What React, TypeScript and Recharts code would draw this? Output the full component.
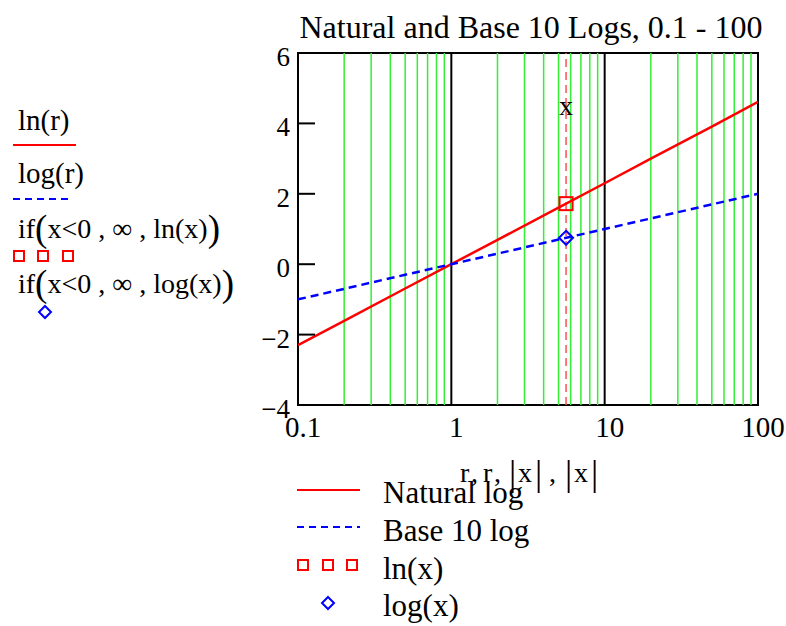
import React from 'react';
import {
  ComposedChart,
  Line,
  Scatter,
  XAxis,
  YAxis,
  ReferenceLine,
  ReferenceArea,
} from 'recharts';

// values
const rValues = [0.1, 0.2, 0.5, 1, 2, 5, 10, 20, 50, 100];
const naturalLog = [-2.3, -1.61, -0.69, 0, 0.69, 1.61, 2.3, 3.0, 3.91, 4.61];
const base10Log = [-1, -0.7, -0.3, 0, 0.3, 0.7, 1, 1.3, 1.7, 2];

const markerX = [5.6];
const markerLn = [1.72];
const markerLog = [0.75];

const xTicks = [0.1, 1, 10, 100];
const yTicks = [-4, -2, 0, 2, 4, 6];
const minorGrid = [0.2, 0.3, 0.4, 0.5, 0.6, 0.7, 0.8, 0.9, 2, 3, 4, 5, 6, 7, 8, 9, 20, 30, 40, 50, 60, 70, 80, 90];
const majorGrid = [1, 10];

const FONT = "'Liberation Serif', 'Times New Roman', serif";

const lnData = rValues.map((r, i) => ({ r, v: naturalLog[i] }));
const logData = rValues.map((r, i) => ({ r, v: base10Log[i] }));
const lnMarker = markerX.map((r, i) => ({ r, v: markerLn[i] }));
const logMarker = markerX.map((r, i) => ({ r, v: markerLog[i] }));

const fmt = (v: number) => (v < 0 ? '\u2212' + Math.abs(v) : String(v));

function XTick(props: any) {
  const { x, y, payload } = props;
  return (
    <text x={x + 5} y={y + 32} textAnchor="middle" fontFamily={FONT} fontSize={29} fill="#000">
      {String(payload.value)}
    </text>
  );
}

function LeftTick(props: any) {
  const { x, y, payload } = props;
  return (
    <g>
      <line x1={x} x2={x + 17} y1={y} y2={y} stroke="#000" strokeWidth={2} />
      <text x={x - 8} y={y + 13} textAnchor="end" fontFamily={FONT} fontSize={27} fill="#000">
        {fmt(payload.value)}
      </text>
    </g>
  );
}

function RightTick(props: any) {
  const { x, y } = props;
  return <line x1={x - 17} x2={x} y1={y} y2={y} stroke="#000" strokeWidth={2} />;
}

const SquareMark = (props: any) => (
  <rect x={props.cx - 6.5} y={props.cy - 6.5} width={13} height={13} fill="none" stroke="#ff0000" strokeWidth={2} />
);

const DiamondMark = (props: any) => (
  <polygon
    points={`${props.cx},${props.cy - 7} ${props.cx + 7},${props.cy} ${props.cx},${props.cy + 7} ${props.cx - 7},${props.cy}`}
    fill="none"
    stroke="#0000ff"
    strokeWidth={2}
  />
);

function smallSquare(cx: number, cy: number, key: string) {
  return <rect key={key} x={cx - 5} y={cy - 5} width={10} height={10} fill="none" stroke="#ff0000" strokeWidth={2} />;
}

function smallDiamond(cx: number, cy: number) {
  return (
    <polygon
      points={`${cx},${cy - 6} ${cx + 6},${cy} ${cx},${cy + 6} ${cx - 6},${cy}`}
      fill="none"
      stroke="#0000ff"
      strokeWidth={2}
    />
  );
}

export default function App() {
  return (
    <div style={{ position: 'absolute', left: 0, top: 0, width: 786, height: 626, background: '#fff' }}>
      <ComposedChart
        width={786}
        height={626}
        margin={{ top: 53, right: 8, bottom: 191, left: 238 }}
      >
        <XAxis
          dataKey="r"
          type="number"
          scale="log"
          domain={[0.1, 100]}
          ticks={xTicks}
          allowDataOverflow
          axisLine={false}
          tickLine={false}
          tickSize={0}
          tickMargin={0}
          height={30}
          tick={<XTick />}
        />
        <YAxis
          yAxisId="left"
          type="number"
          domain={[-4, 6]}
          ticks={yTicks}
          width={60}
          axisLine={false}
          tickLine={false}
          tickSize={0}
          tickMargin={0}
          tick={<LeftTick />}
        />
        <YAxis
          yAxisId="right"
          orientation="right"
          type="number"
          domain={[-4, 6]}
          ticks={yTicks}
          width={20}
          axisLine={false}
          tickLine={false}
          tickSize={0}
          tickMargin={0}
          tick={<RightTick />}
        />

        {minorGrid.map((g) => (
          <ReferenceLine key={'m' + g} x={g} yAxisId="left" stroke="#33ee33" strokeWidth={1.5} />
        ))}
        {majorGrid.map((g) => (
          <ReferenceLine key={'M' + g} x={g} yAxisId="left" stroke="#000" strokeWidth={2} />
        ))}
        <ReferenceArea
          x1={0.1}
          x2={100}
          y1={-4}
          y2={6}
          yAxisId="left"
          fill="none"
          fillOpacity={0}
          stroke="#000"
          strokeWidth={2}
        />
        <ReferenceLine
          x={markerX[0]}
          yAxisId="left"
          stroke="#ff5050"
          strokeWidth={1.5}
          strokeDasharray="8 5"
          label={{ value: 'x', position: 'insideTop', offset: 42, fontFamily: FONT, fontSize: 28, fill: '#000' }}
        />

        <Line
          data={lnData}
          dataKey="v"
          yAxisId="left"
          type="linear"
          stroke="#ff0000"
          strokeWidth={2.5}
          dot={false}
          isAnimationActive={false}
        />
        <Line
          data={logData}
          dataKey="v"
          yAxisId="left"
          type="linear"
          stroke="#0000ff"
          strokeWidth={2.5}
          strokeDasharray="8 5"
          dot={false}
          isAnimationActive={false}
        />
        <Scatter data={lnMarker} dataKey="v" yAxisId="left" shape={SquareMark} isAnimationActive={false} />
        <Scatter data={logMarker} dataKey="v" yAxisId="left" shape={DiamondMark} isAnimationActive={false} />
      </ComposedChart>

      <svg
        width={786}
        height={626}
        style={{ position: 'absolute', left: 0, top: 0, pointerEvents: 'none' }}
        fontFamily={FONT}
        fill="#000"
      >
        {/* title */}
        <text x={531} y={38} textAnchor="middle" fontSize={32}>
          Natural and Base 10 Logs, 0.1 - 100
        </text>

        {/* x axis label */}
        <text y={482} fontSize={28}>
          <tspan x={460}>r</tspan>
          <tspan x={471}>,</tspan>
          <tspan x={483}>r</tspan>
          <tspan x={494}>,</tspan>
          <tspan x={509} fontSize={36} dy={3}>|</tspan>
          <tspan x={518} dy={-3}>x</tspan>
          <tspan x={535} fontSize={36} dy={3}>|</tspan>
          <tspan x={549} dy={-3}>,</tspan>
          <tspan x={565} fontSize={36} dy={3}>|</tspan>
          <tspan x={574} dy={-3}>x</tspan>
          <tspan x={591} fontSize={36} dy={3}>|</tspan>
        </text>

        {/* left-hand trace list */}
        <text x={18} y={130} fontSize={29}>ln(r)</text>
        <line x1={13} x2={76} y1={145} y2={145} stroke="#ff0000" strokeWidth={2} />
        <text x={18} y={183} fontSize={29}>log(r)</text>
        <line x1={13} x2={70} y1={199} y2={199} stroke="#0000ff" strokeWidth={2} strokeDasharray="7 5" />
        <text x={18} y={238} fontSize={28}>
          if<tspan fontSize={37} dy={3}>(</tspan>
          <tspan dy={-3}>x&lt;0 , ∞ , ln(x)</tspan>
          <tspan fontSize={37} dy={3}>)</tspan>
        </text>
        {smallSquare(19, 256, 'a')}
        {smallSquare(43, 256, 'b')}
        {smallSquare(68, 256, 'c')}
        <text x={18} y={293} fontSize={28}>
          if<tspan fontSize={37} dy={3}>(</tspan>
          <tspan dy={-3}>x&lt;0 , ∞ , log(x)</tspan>
          <tspan fontSize={37} dy={3}>)</tspan>
        </text>
        {smallDiamond(45, 312)}

        {/* bottom legend */}
        <line x1={297} x2={360} y1={490} y2={490} stroke="#ff0000" strokeWidth={2} />
        <text x={383} y={503} fontSize={31}>Natural log</text>
        <line x1={297} x2={360} y1={527} y2={527} stroke="#0000ff" strokeWidth={2} strokeDasharray="7 5" />
        <text x={383} y={541} fontSize={31}>Base 10 log</text>
        {smallSquare(303, 565, 'd')}
        {smallSquare(328, 565, 'e')}
        {smallSquare(352, 565, 'f')}
        <text x={383} y={579} fontSize={31}>ln(x)</text>
        {smallDiamond(328, 603)}
        <text x={383} y={616} fontSize={31}>log(x)</text>
      </svg>
    </div>
  );
}
